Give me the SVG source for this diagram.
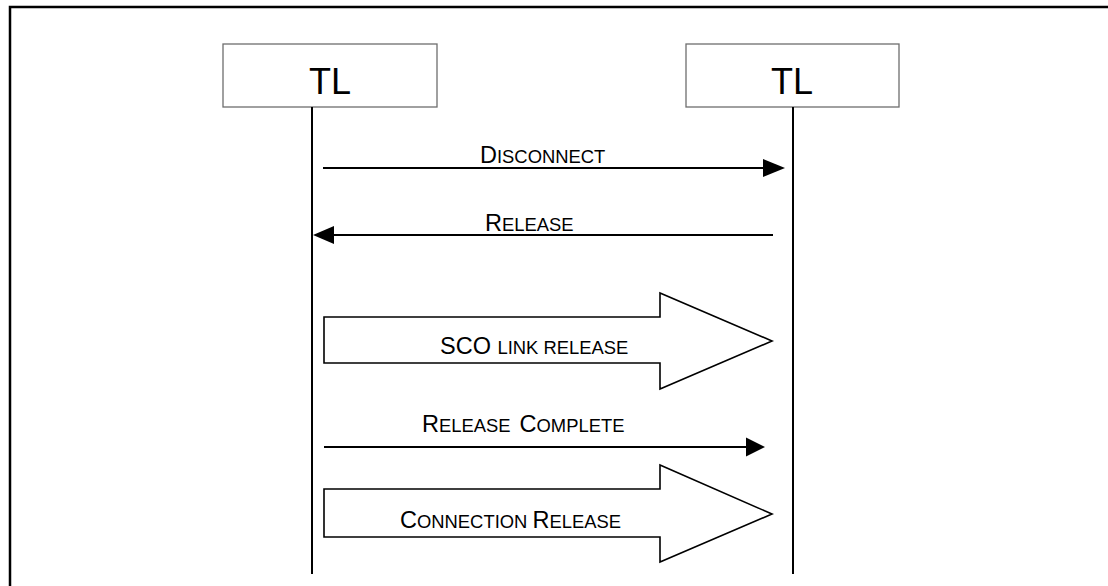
<svg xmlns="http://www.w3.org/2000/svg" width="1108" height="586" viewBox="0 0 1108 586">
<style>
.frame{stroke:#000;stroke-width:2.5;fill:none}
.box{fill:#fff;stroke:#6e6e6e;stroke-width:1.3}
.life{stroke:#000;stroke-width:2;fill:none}
.msg{stroke:#000;stroke-width:2;fill:none}
.head{fill:#000;stroke:none}
.block{fill:#fff;stroke:#000;stroke-width:1.6;stroke-linejoin:miter}
.tl{font-family:"Liberation Sans",Arial,sans-serif;font-size:36px;fill:#000;text-anchor:middle}
.lbl{font-family:"Liberation Sans",Arial,sans-serif;font-size:18.4px;fill:#000}
.big{font-size:23.5px}
</style>
<rect width="1108" height="586" fill="#fff"/>
<path class="frame" d="M10,586 L10,7 L1108,7"/>
<g id="node-tl-left">
<rect class="box" x="223" y="44" width="214" height="63"/>
<text class="tl" x="330" y="94">TL</text>
<line class="life" x1="312" y1="107" x2="312" y2="574"/>
</g>
<g id="node-tl-right">
<rect class="box" x="686" y="44" width="213" height="63"/>
<text class="tl" x="792" y="94">TL</text>
<line class="life" x1="793" y1="107" x2="793" y2="574"/>
</g>
<g id="connectors">
<g id="msg-disconnect">
<line class="msg" x1="323" y1="168" x2="765" y2="168"/>
<polygon class="head" points="763,159 785,168 763,177"/>
<text class="lbl" x="480" y="163"><tspan class="big">D</tspan>ISCONNECT</text>
</g>
<g id="msg-release">
<line class="msg" x1="773" y1="235" x2="332" y2="235"/>
<polygon class="head" points="334,226 313,235 334,244"/>
<text class="lbl" x="485" y="231"><tspan class="big">R</tspan>ELEASE</text>
</g>
<g id="msg-sco">
<polygon class="block" points="324,317 660,317 660,293 772,341 660,389 660,363 324,363"/>
<text class="lbl" x="440" y="354"><tspan class="big">SCO </tspan>LINK RELEASE</text>
</g>
<g id="msg-release-complete">
<line class="msg" x1="324" y1="447" x2="748" y2="447"/>
<polygon class="head" points="746,437.5 765,447 746,456.5"/>
<text class="lbl" x="422" y="432"><tspan class="big">R</tspan>ELEASE<tspan dx="9" class="big">C</tspan>OMPLETE</text>
</g>
<g id="msg-connection-release">
<polygon class="block" points="324,489 660,489 660,465 772,514 660,562 660,537 324,537"/>
<text class="lbl" x="400" y="528"><tspan class="big">C</tspan>ONNECTION <tspan class="big">R</tspan>ELEASE</text>
</g>
</g>
</svg>
